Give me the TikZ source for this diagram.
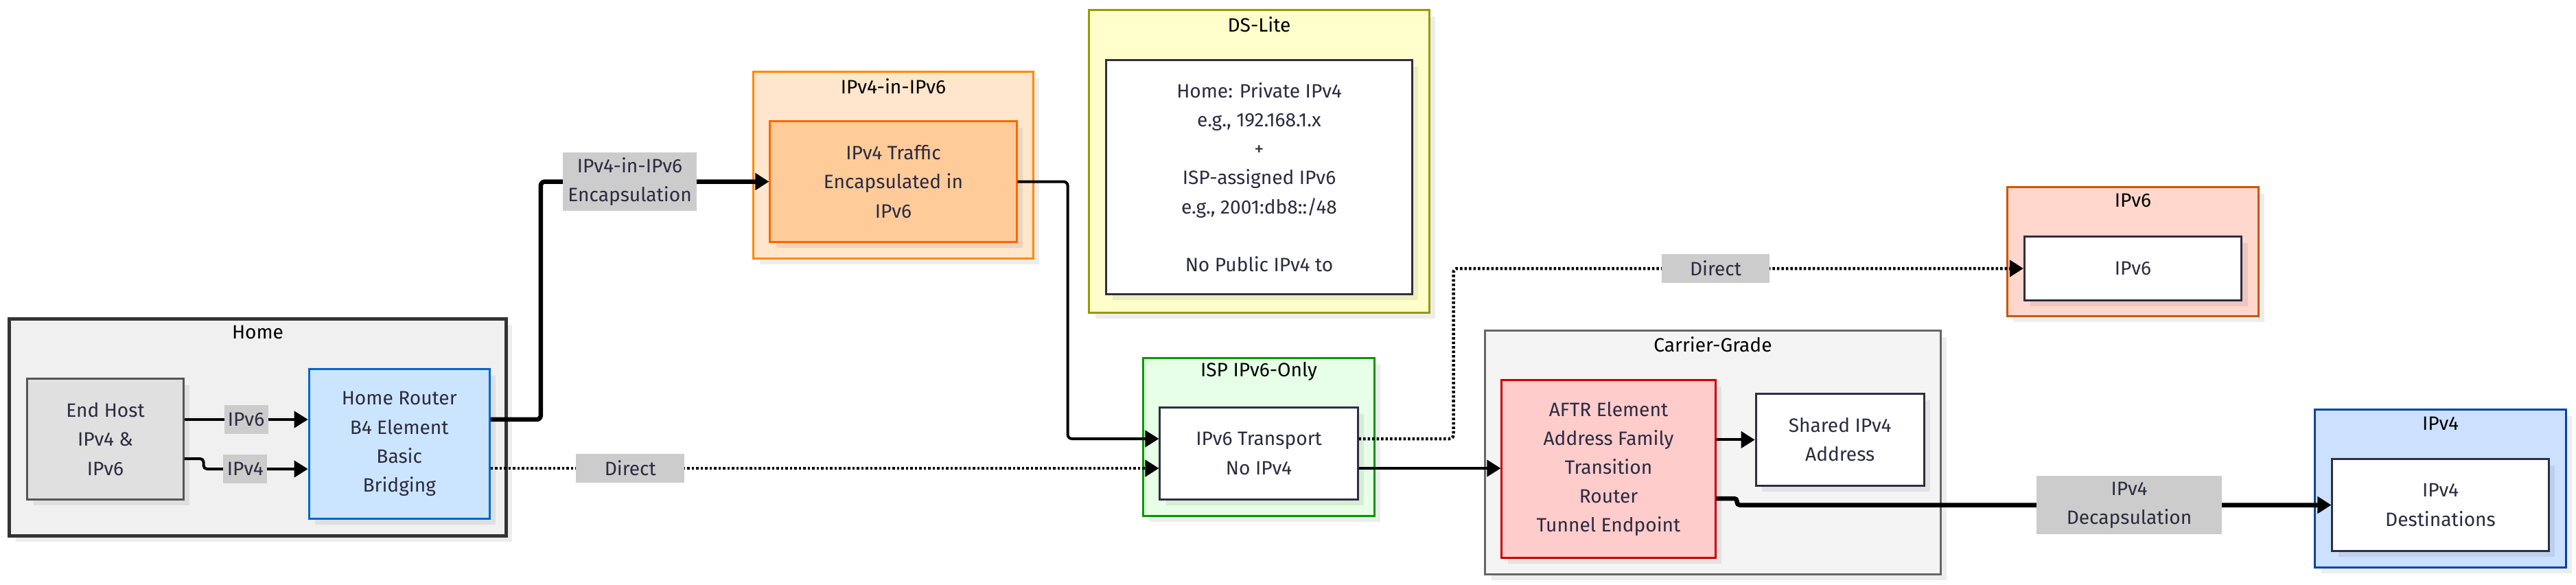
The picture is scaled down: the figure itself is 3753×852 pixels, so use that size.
\documentclass[tikz,border=0pt]{standalone}
\usepackage{fontspec}
\setmainfont{Fira Sans}
\usepackage{tikz}
\usetikzlibrary{arrows.meta,shadows}

\definecolor{ink}{HTML}{2B2B40}
\definecolor{dark}{HTML}{2E2E45}
\definecolor{tagfill}{HTML}{CCCCCC}
\definecolor{homefill}{HTML}{F0F0F0}
\definecolor{homeline}{HTML}{333333}
\definecolor{hostfill}{HTML}{E0E0E0}
\definecolor{hostline}{HTML}{555555}
\definecolor{routerfill}{HTML}{CCE5FF}
\definecolor{routerline}{HTML}{0066CC}
\definecolor{tunnelfill}{HTML}{FFE6CC}
\definecolor{tunnelline}{HTML}{FF8800}
\definecolor{encapfill}{HTML}{FFCC99}
\definecolor{encapline}{HTML}{FF6600}
\definecolor{dsfill}{HTML}{FFFFCC}
\definecolor{dsline}{HTML}{999900}
\definecolor{ispfill}{HTML}{E6FFE6}
\definecolor{ispline}{HTML}{009900}
\definecolor{carrierfill}{HTML}{F4F4F4}
\definecolor{carrierline}{HTML}{666666}
\definecolor{aftrfill}{HTML}{FFCCCC}
\definecolor{aftrline}{HTML}{CC0000}
\definecolor{sixfill}{HTML}{FFD7CC}
\definecolor{sixline}{HTML}{CC5500}
\definecolor{fourfill}{HTML}{CCE0FF}
\definecolor{fourline}{HTML}{0044AA}

\begin{document}
\begin{tikzpicture}[x=0.01cm,y=-0.01cm,>={Triangle[length=0.2cm,width=0.24cm]},
    font=\fontsize{8}{12}\selectfont,node distance=2cm,
    every node/.style={text=ink,align=center},
    boxshadow/.style={drop shadow={shadow xshift=0.09cm,shadow yshift=-0.09cm,fill=black,opacity=0.07}},
    cluster/.style={shape=rectangle,draw,line width=0.03cm,boxshadow},
    box/.style={shape=rectangle,draw,line width=0.03cm,boxshadow,inner sep=0pt},
    plainbox/.style={box,fill=white,draw=dark},
    clustertitle/.style={text=black},
    tag/.style={fill=tagfill,sharp corners,inner xsep=0.05cm,inner ysep=0pt,minimum height=0.42cm},
    link/.style={->,line width=0.04cm},
    boldlink/.style={->,line width=0.065cm},
    dotlink/.style={->,line width=0.045cm,dash pattern=on 0.035cm off 0.03cm}]
\useasboundingbox (0,0) rectangle (3753,852);

% clusters
\node (home) [cluster,fill=homefill,draw=homeline,line width=0.05cm,minimum width=7.23cm,minimum height=3.15cm] at (375.5,622.5) {};
\node (hometitle) [clustertitle] at ([yshift=-0.22cm]home.north) {Home};
\node (tunnel) [cluster,fill=tunnelfill,draw=tunnelline,minimum width=4.07cm,minimum height=2.71cm] at (1301.5,240.5) {};
\node (tunneltitle) [clustertitle] at ([yshift=-0.22cm]tunnel.north) {IPv4-in-IPv6};
\node (dslite) [cluster,fill=dsfill,draw=dsline,minimum width=4.95cm,minimum height=4.40cm] at (1834.5,235) {};
\node (dslitetitle) [clustertitle] at ([yshift=-0.22cm]dslite.north) {DS-Lite};
\node (isp) [cluster,fill=ispfill,draw=ispline,minimum width=3.36cm,minimum height=2.29cm] at (1834,636.5) {};
\node (isptitle) [clustertitle] at ([yshift=-0.21cm]isp.north) {ISP IPv6-Only};
\node (carrier) [cluster,fill=carrierfill,draw=carrierline,minimum width=6.63cm,minimum height=3.54cm] at (2495.5,659) {};
\node (carriertitle) [clustertitle] at ([yshift=-0.21cm]carrier.north) {Carrier-Grade};
\node (six) [cluster,fill=sixfill,draw=sixline,minimum width=3.65cm,minimum height=1.87cm] at (3107.5,366.5) {};
\node (sixtitle) [clustertitle] at ([yshift=-0.21cm]six.north) {IPv6};
\node (four) [cluster,fill=fourfill,draw=fourline,minimum width=3.65cm,minimum height=2.29cm] at (3555.5,711.5) {};
\node (fourtitle) [clustertitle] at ([yshift=-0.21cm]four.north) {IPv4};

% nodes
\node (host) [box,fill=hostfill,draw=hostline,minimum width=2.27cm,minimum height=1.75cm] at (153.5,639.5) {End Host\\IPv4 \&\\IPv6};
\node (router) [box,fill=routerfill,draw=routerline,minimum width=2.63cm,minimum height=2.17cm] [right of=host,node distance=4.28cm,yshift=-0.07cm] {Home Router\\B4 Element\\Basic\\Bridging};
\node (encap) [box,fill=encapfill,draw=encapline,minimum width=3.59cm,minimum height=1.75cm] [below of=tunnel,node distance=0.24cm] {IPv4 Traffic\\Encapsulated in\\IPv6};
\node (dsnote) [plainbox,minimum width=4.45cm,minimum height=3.40cm] [below of=dslite,node distance=0.23cm] {Home: Private IPv4\\e.g., 192.168.1.x\\+\\ISP-assigned IPv6\\e.g., 2001:db8::/48\\[12pt]No Public IPv4 to};
\node (transport) [plainbox,minimum width=2.88cm,minimum height=1.33cm] [below of=isp,node distance=0.24cm] {IPv6 Transport\\No IPv4};
\node (aftr) [box,fill=aftrfill,draw=aftrline,minimum width=3.11cm,minimum height=2.58cm] at (2343.5,683) {AFTR Element\\Address Family\\Transition\\Router\\Tunnel Endpoint};
\node (shared) [plainbox,minimum width=2.45cm,minimum height=1.33cm] [right of=aftr,node distance=3.37cm,yshift=0.425cm] {Shared IPv4\\Address};
\node (sixdest) [plainbox,minimum width=3.16cm,minimum height=0.92cm] [below of=six,node distance=0.245cm] {IPv6};
\node (fourdest) [plainbox,minimum width=3.15cm,minimum height=1.33cm] [below of=four,node distance=0.24cm] {IPv4\\Destinations};

% connectors
\draw[link] ([yshift=0.285cm]host.east) -- node[tag,minimum width=0.64cm] {IPv6} ([yshift=0.285cm]host.east -| router.west);
\draw[link,rounded corners=0.05cm] ([yshift=-0.285cm]host.east) -- ++(28,0) |- node[tag,pos=0.7,minimum width=0.64cm] {IPv4} ([yshift=-0.365cm]router.west);
\draw[boldlink,rounded corners=0.06cm] ([yshift=0.355cm]router.east) -- ++(73,0) |- node[tag,pos=0.695,minimum width=1.95cm,minimum height=0.84cm] {IPv4-in-IPv6\\Encapsulation} (encap.west);
\draw[link,rounded corners=0.06cm] (encap.east) -- ++(73,0) |- ([yshift=0.215cm]transport.west);
\draw[dotlink] ([yshift=-0.355cm]router.east) -- node[tag,pos=0.209,minimum width=1.58cm] {Direct} ([yshift=-0.355cm]router.east -| transport.west);
\draw[dotlink,rounded corners=0.06cm] ([yshift=0.215cm]transport.east) -- ++(138,0) |- node[tag,pos=0.73,minimum width=1.57cm] {Direct} (sixdest.west);
\draw[link] ([yshift=-0.215cm]transport.east) -- ([yshift=-0.215cm]transport.east -| aftr.west);
\draw[link] (aftr.east |- shared.west) -- (shared.west);
\draw[boldlink,rounded corners=0.04cm] ([yshift=-0.43cm]aftr.east) -- ++(30,0) |- node[tag,pos=0.83,minimum width=2.70cm,minimum height=0.84cm] {IPv4\\Decapsulation} (fourdest.west);
\end{tikzpicture}
\end{document}
